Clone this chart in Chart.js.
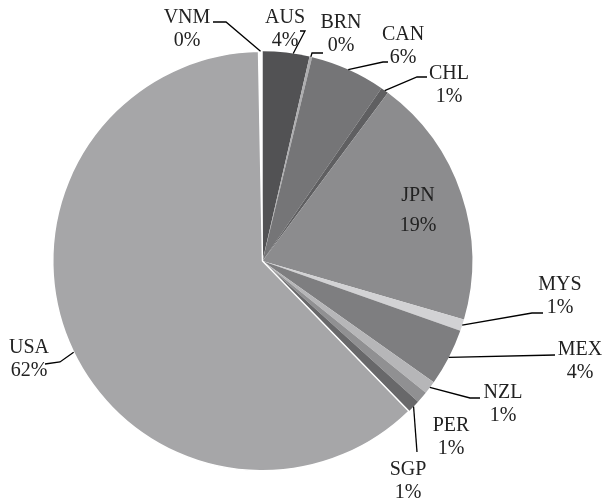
<!DOCTYPE html>
<html>
<head>
<meta charset="utf-8">
<style>
  html, body { margin: 0; padding: 0; background: #fff; }
  #wrap { width: 602px; height: 504px; }
</style>
<script src="https://cdn.jsdelivr.net/npm/chart.js@4.4.0/dist/chart.umd.min.js"></script>
</head>
<body>
<div id="wrap"><canvas id="pie" width="602" height="504"></canvas></div>
<script>
// Share of total by country (%)
const countries = ['AUS', 'BRN', 'CAN', 'CHL', 'JPN', 'MYS', 'MEX', 'NZL', 'PER', 'SGP', 'USA', 'VNM'];
const shares = [3.6, 0.2, 5.8, 0.6, 19.3, 0.9, 4.4, 1.0, 0.9, 1.0, 62.0, 0.3];
const sliceColors = ['#525254', '#adadaf', '#757577', '#5f5f61', '#8c8c8e', '#d2d2d4',
                     '#7e7e80', '#b6b6b8', '#909092', '#68686a', '#a6a6a8', '#ffffff'];

// Label placement: text centre of first line, where on the slice the leader starts (0..1),
// plus leader elbow / end (no elbow = no leader)
const labelLayout = [
    { x: 285, y: 18, at: 0.65, elbow: [305, 31], end: [300, 31] },   // AUS
    { x: 341, y: 23, elbow: [312, 53], end: [323, 53] },             // BRN
    { x: 403, y: 35, elbow: [383, 62], end: [388, 62] },             // CAN
    { x: 449, y: 74, elbow: [417, 77], end: [427, 77] },             // CHL
    { x: 418, y: 196, gap: 30 },                                     // JPN
    { x: 560, y: 285, elbow: [532, 313], end: [543, 313] },          // MYS
    { x: 580, y: 350, elbow: [555, 355], end: [555, 355] },          // MEX
    { x: 503, y: 393, elbow: [470, 398], end: [480, 398] },          // NZL
    { x: 451, y: 426 },                                              // PER
    { x: 408, y: 470, elbow: [417, 452], end: [417, 452] },          // SGP
    { x: 29, y: 348, at: 0.486, elbow: [60, 362], end: [45, 364] },  // USA
    { x: 187, y: 18, elbow: [226, 22], end: [213, 22] }              // VNM
];

const total = shares.reduce((a, b) => a + b, 0);

// Plugin to draw the category / percent labels with leader lines
const pieLabels = {
    id: 'pieLabels',
    afterDatasetsDraw(chart) {
        const ctx = chart.ctx;
        const arcs = chart.getDatasetMeta(0).data;
        ctx.save();
        ctx.font = '20px "Liberation Serif", "Times New Roman", serif';
        ctx.textAlign = 'center';
        ctx.textBaseline = 'middle';
        arcs.forEach((arc, i) => {
            const lay = labelLayout[i];
            if (lay.elbow) {
                const f = lay.at !== undefined ? lay.at : 0.5;
                const ang = arc.startAngle + (arc.endAngle - arc.startAngle) * f;
                const sx = arc.x + Math.cos(ang) * arc.outerRadius;
                const sy = arc.y + Math.sin(ang) * arc.outerRadius;
                ctx.strokeStyle = '#000';
                ctx.lineWidth = 1.3;
                ctx.beginPath();
                ctx.moveTo(sx, sy);
                ctx.lineTo(lay.elbow[0], lay.elbow[1]);
                ctx.lineTo(lay.end[0], lay.end[1]);
                ctx.stroke();
            }
            const pct = Math.round(shares[i] / total * 100) + '%';
            ctx.fillStyle = '#222';
            ctx.fillText(countries[i], lay.x, lay.y);
            ctx.fillText(pct, lay.x, lay.y + (lay.gap || 23));
        });
        ctx.restore();
    }
};

const borderWidths = countries.map(c => c === 'USA' ? 1.5 : 0);

new Chart(document.getElementById('pie').getContext('2d'), {
    type: 'pie',
    data: {
        labels: countries,
        datasets: [{
            data: shares,
            backgroundColor: sliceColors,
            borderColor: '#ffffff',
            borderWidth: borderWidths,
            hoverOffset: 0
        }]
    },
    options: {
        responsive: false,
        animation: false,
        events: [],
        layout: {
            padding: { left: 52, right: 129, top: 50, bottom: 32 }
        },
        plugins: {
            legend: { display: false },
            tooltip: { enabled: false }
        }
    },
    plugins: [pieLabels]
});
</script>
</body>
</html>
